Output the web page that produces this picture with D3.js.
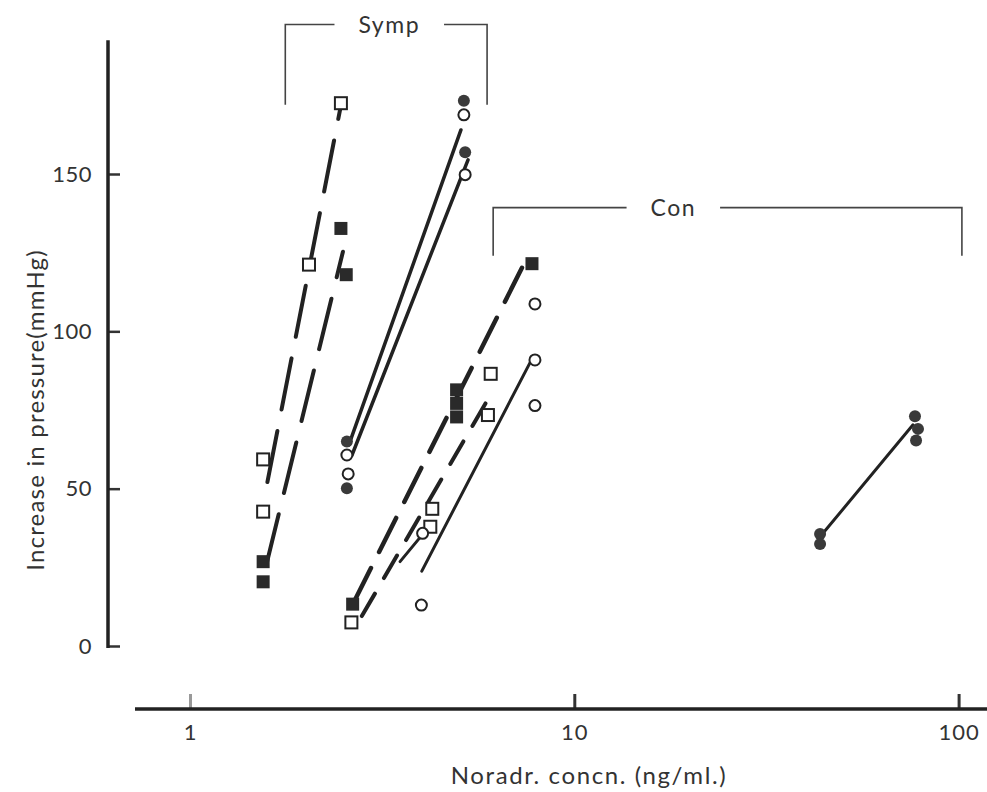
<!DOCTYPE html>
<meta charset="utf-8">
<style>
  body { margin: 0; background: #fff; }
  text { font-family: Lato, "Open Sans", sans-serif; fill: #333; }
</style>
<body>
<script src="https://cdn.jsdelivr.net/npm/d3@7"></script>
<script>
  // points: [concn ng/ml, increase mmHg]
  var openSquares = [[1.55, 59.3], [1.55, 42.7], [2.04, 121.2], [2.47, 172.5], [2.63, 7.5],
                     [4.27, 43.6], [4.22, 37.9], [6.06, 86.5], [5.96, 73.4]];
  var filledSquares = [[1.55, 26.8], [1.55, 20.4], [2.47, 132.7], [2.55, 118], [2.65, 13.3],
                       [4.94, 81.4], [4.94, 77.1], [4.94, 72.8], [7.76, 121.5]];
  var openCircles = [[2.56, 60.7], [2.58, 54.7], [5.16, 168.8], [5.2, 149.8],
                     [7.9, 108.7], [7.9, 90.9], [7.9, 76.4], [4.03, 35.8], [4.0, 13]];
  var filledCircles = [[2.56, 65], [2.56, 50.1], [5.16, 173.3], [5.2, 156.9],
                       [43.6, 35.6], [43.6, 32.4], [77.0, 73], [78.4, 69], [77.5, 65.3]];

  // fitted lines, two end points each
  var sympDashA = [[1.59, 52.1], [2.47, 171.8]];
  var sympDashB = [[1.58, 25.8], [2.50, 125.3]];
  var sympSolidA = [[2.59, 63.9], [5.07, 164]];
  var sympSolidB = [[2.64, 60.7], [5.29, 154.5]];
  var conDashA = [[2.67, 14], [7.31, 120.2]];
  var conDashB = [[2.80, 9.5], [6.11, 80.7]];
  var conSolidA = [[4.01, 23.8], [7.81, 91.9]];
  var conSolidB = [[3.52, 26.8], [4.12, 36.9]];
  var conSolidC = [[43.6, 34.7], [76.1, 70.3]];

  // group brackets: [x from, x to, y bottom, y top], label at x
  var bracketNames = ["Symp", "Con"];
  var bracketSpans = [[1.77, 5.93, 172, 197.5], [6.15, 102, 124, 139.3]];
  var bracketLabelX = [3.3, 18.1];

  var xTicks = [1, 10, 100];
  var yTicks = [0, 50, 100, 150];

  var svg = d3.select("body").append("svg")
      .attr("width", 987)
      .attr("height", 792);

  var x = d3.scaleLog().domain([1, 100]).range([190, 958.6]);
  var y = d3.scaleLinear().domain([0, 150]).range([646, 174]);

  // y axis
  var yAxis = svg.append("g")
      .attr("transform", "translate(108,0)")
      .call(d3.axisLeft(y).tickValues(yTicks).tickSize(-12).tickPadding(16));
  yAxis.select(".domain").remove();
  yAxis.selectAll("line").attr("stroke", "#333").attr("stroke-width", 2.5);
  yAxis.selectAll("text").style("font-size", "22px").style("letter-spacing", "0.5px").attr("fill", "#333");
  svg.append("line")
      .attr("x1", 108).attr("x2", 108)
      .attr("y1", y(-0.6)).attr("y2", y(192.5))
      .attr("stroke", "#222").attr("stroke-width", 3.5);

  // x axis
  var xAxis = svg.append("g")
      .attr("transform", "translate(0,709)")
      .call(d3.axisBottom(x).tickValues(xTicks).tickFormat(d3.format("d")).tickSize(-15).tickPadding(15));
  xAxis.select(".domain").remove();
  xAxis.selectAll("line").attr("stroke", function(d) { return d === 1 ? "#999" : "#333"; }).attr("stroke-width", 3);
  xAxis.selectAll("text").style("font-size", "22px").style("letter-spacing", "1px").attr("fill", "#333");
  svg.append("line")
      .attr("x1", 135).attr("x2", 987)
      .attr("y1", 709).attr("y2", 709)
      .attr("stroke", "#222").attr("stroke-width", 3.5);

  svg.append("text")
      .attr("x", 589).attr("y", 784)
      .attr("text-anchor", "middle")
      .style("font-size", "24px")
      .style("letter-spacing", "1.6px")
      .text("Noradr. concn. (ng/ml.)");

  svg.append("text")
      .attr("transform", "translate(44,410) rotate(-90)")
      .attr("text-anchor", "middle")
      .style("font-size", "24px")
      .style("letter-spacing", "1.2px")
      .text("Increase in pressure(mmHg)");

  // brackets
  bracketSpans.forEach(function(b, i) {
    var x0 = x(b[0]), x1 = x(b[1]), yb = y(b[2]), yt = y(b[3]);
    var mid = x(bracketLabelX[i]);
    var t = svg.append("text")
        .attr("x", mid).attr("y", yt + 8)
        .attr("text-anchor", "middle")
        .style("font-size", "23px")
        .style("letter-spacing", "1.5px")
        .text(bracketNames[i]);
    var w = t.node().getComputedTextLength() / 2 + 24;
    var p = d3.path();
    p.moveTo(x0, yb); p.lineTo(x0, yt); p.lineTo(mid - w, yt);
    p.moveTo(mid + w, yt); p.lineTo(x1, yt); p.lineTo(x1, yb);
    svg.append("path").attr("d", p.toString())
        .attr("fill", "none").attr("stroke", "#444").attr("stroke-width", 1.6);
  });

  var line = d3.line().x(function(d) { return x(d[0]); }).y(function(d) { return y(d[1]); });

  function drawLine(pts, dash, w) {
    svg.append("path").datum(pts)
        .attr("d", line)
        .attr("fill", "none")
        .attr("stroke", "#222")
        .attr("stroke-width", w)
        .attr("stroke-linecap", "round")
        .attr("stroke-dasharray", dash);
  }

  drawLine(sympDashA, "52,22", 4);
  drawLine(sympDashB, "52,22", 4);
  drawLine(sympSolidA, null, 3.5);
  drawLine(sympSolidB, null, 3.5);
  drawLine(conDashA, "38,18", 4.5);
  drawLine(conDashB, "26,18", 4);
  drawLine(conSolidA, null, 3);
  drawLine(conSolidB, null, 3);
  drawLine(conSolidC, null, 3);

  // symbols
  svg.selectAll(".osq").data(openSquares).enter().append("rect")
      .attr("x", function(d) { return x(d[0]) - 6; })
      .attr("y", function(d) { return y(d[1]) - 6; })
      .attr("width", 12).attr("height", 12)
      .attr("fill", "#fff").attr("stroke", "#222").attr("stroke-width", 2);

  svg.selectAll(".fsq").data(filledSquares).enter().append("rect")
      .attr("x", function(d) { return x(d[0]) - 6.5; })
      .attr("y", function(d) { return y(d[1]) - 6.5; })
      .attr("width", 13).attr("height", 13)
      .attr("fill", "#2a2a2a");

  svg.selectAll(".oc").data(openCircles).enter().append("circle")
      .attr("cx", function(d) { return x(d[0]); })
      .attr("cy", function(d) { return y(d[1]); })
      .attr("r", 5.5)
      .attr("fill", "#fff").attr("stroke", "#222").attr("stroke-width", 2);

  svg.selectAll(".fc").data(filledCircles).enter().append("circle")
      .attr("cx", function(d) { return x(d[0]); })
      .attr("cy", function(d) { return y(d[1]); })
      .attr("r", 6)
      .attr("fill", "#3a3a3a");
</script>
</body>
